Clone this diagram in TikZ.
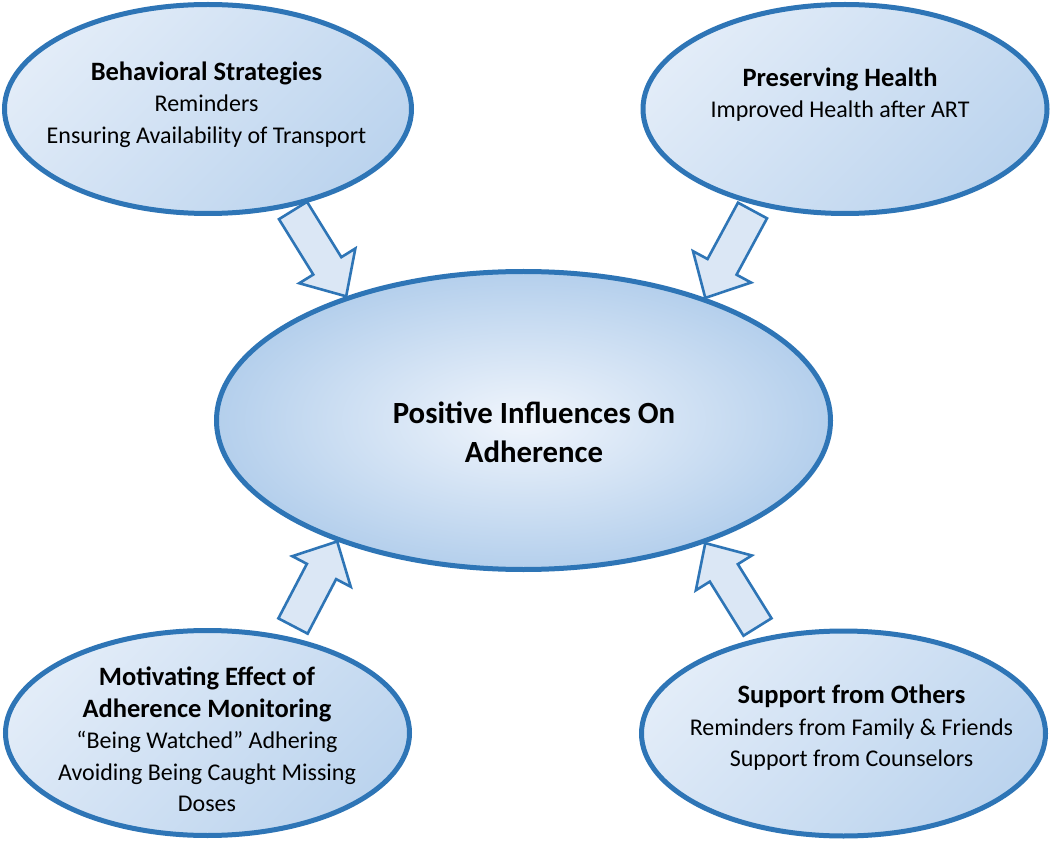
\documentclass[tikz,border=0pt]{standalone}
\usepackage{fontspec}
\setmainfont{Carlito}
\usetikzlibrary{calc,shapes.geometric}
\definecolor{edgeblue}{RGB}{46,117,182}
\definecolor{lightfill}{RGB}{226,236,248}
\definecolor{darkfill}{RGB}{188,212,238}
\definecolor{arrowfill}{RGB}{219,231,245}
\definecolor{centerin}{RGB}{240,245,252}
\definecolor{centerout}{RGB}{180,207,236}
\tikzset{
  outerell/.style={ellipse, draw=edgeblue, line width=5pt, top color=lightfill,
    bottom color=darkfill, shading angle=45, inner sep=0pt},
  centerell/.style={ellipse, draw=edgeblue, line width=5pt, inner color=centerin,
    outer color=centerout, inner sep=0pt},
  txt/.style={align=center, inner sep=0pt, text=black,
    font=\fontsize{24}{31.5}\selectfont},
  bigtxt/.style={align=center, inner sep=0pt, text=black,
    font=\fontsize{30.8}{39}\selectfont\bfseries},
  barrow/.style={draw=edgeblue, fill=arrowfill, line width=2.6pt, line join=miter}
}
\newcommand\hd[1]{{\fontsize{26.5}{31.5}\selectfont\bfseries #1}}
\newcommand\blockarrow[2]{%
  \path ($(#1)!0.645!(#2)$) coordinate (hb);
  \draw[barrow] ($(#1)!16.5pt!90:(#2)$) -- ($(hb)!16.5pt!90:(#2)$)
    -- ($(hb)!33pt!90:(#2)$) -- (#2) -- ($(hb)!33pt!-90:(#2)$)
    -- ($(hb)!16.5pt!-90:(#2)$) -- ($(#1)!16.5pt!-90:(#2)$) -- cycle;}
\begin{document}
\begin{tikzpicture}[x=1pt, y=-1pt]
\useasboundingbox (0,0) rectangle (1050,842);
\fill[white] (0,0) rectangle (1050,842);
% ellipses
\node[outerell, minimum width=407pt, minimum height=209pt] (tl) at (208,109) {};
\node[outerell, minimum width=404pt, minimum height=209pt] (tr) at (845,109) {};
\node[centerell, minimum width=614pt, minimum height=298pt] (c) at (523.5,420.5) {};
\node[outerell, minimum width=404pt, minimum height=205pt] (bl) at (207.5,733) {};
\node[outerell, minimum width=404pt, minimum height=205pt] (br) at (843.5,733.5) {};
% texts
\node[txt] (tltxt) at (206.5,104.5) {\hd{Behavioral Strategies}\\Reminders\\Ensuring Availability of Transport};
\node[txt] (trtxt) at (840,94.5) {\hd{Preserving Health}\\Improved Health after ART};
\node[bigtxt] (ctxt) at (534,432.5) {Positive Influences On\\Adherence};
\node[txt] (bltxt) at (207,739.5) {\hd{Motivating Effect of}\\\hd{Adherence Monitoring}\\“Being Watched” Adhering\\Avoiding Being Caught Missing\\Doses};
\node[txt] (brtxt) at (851.5,728) {\hd{Support from Others}\\Reminders from Family \& Friends\\Support from Counselors};
% arrows
\coordinate (t1) at (293,210.5);
\coordinate (t2) at (752.5,210.5);
\coordinate (t3) at (293,626);
\coordinate (t4) at (757.5,627);
\blockarrow{t1}{c.145.5}
\blockarrow{t2}{c.34.5}
\blockarrow{t3}{c.213.5}
\blockarrow{t4}{c.326.3}
\end{tikzpicture}
\end{document}
